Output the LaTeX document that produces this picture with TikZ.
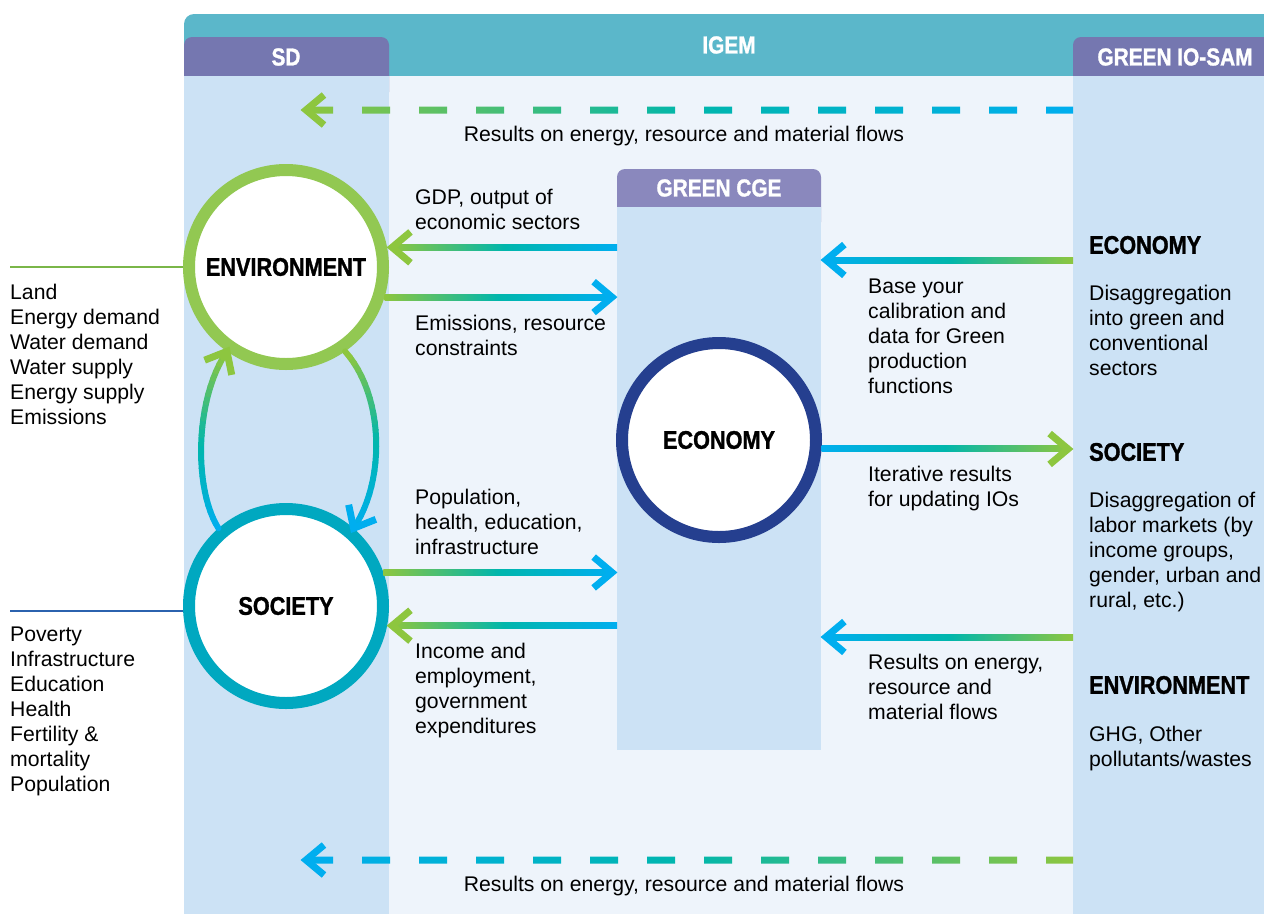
\documentclass[tikz,border=0pt]{standalone}
\usepackage{fontspec}
\setmainfont{Liberation Sans}
\newfontfamily\headfont{Liberation Sans}[FakeStretch=0.85, BoldFeatures={FakeBold=1.2}]
\usetikzlibrary{calc}

\definecolor{igembar}{HTML}{5BB7CA}
\definecolor{pale}{HTML}{EEF4FB}
\definecolor{colblue}{HTML}{CCE2F5}
\definecolor{tabpurple}{HTML}{7577B0}
\definecolor{cgepurple}{HTML}{8A88BD}
\definecolor{envgreen}{HTML}{92C852}
\definecolor{socteal}{HTML}{00A8C0}
\definecolor{econblue}{HTML}{253F8F}
\definecolor{arrowgreen}{HTML}{8DC63F}
\definecolor{midteal}{HTML}{00B6AC}
\definecolor{arrowblue}{HTML}{00AEEF}
\definecolor{envline}{HTML}{7AB648}
\definecolor{socline}{HTML}{2B62AE}

\newcommand\bodyfont{\fontsize{21.2}{25}\selectfont}
\newcommand\bigfont{\headfont\bfseries\fontsize{25.5}{30}\selectfont}
\newcommand\tabfont{\headfont\bfseries\fontsize{24.5}{28}\selectfont}

\tikzset{
  ring/.style={circle, draw=#1, fill=white, line width=12pt, minimum size=194pt, inner sep=0pt, font=\bigfont},
  colbody/.style={fill=colblue, anchor=north west, inner sep=0pt, outer sep=0pt},
  tabtext/.style={text=white, font=\tabfont},
  head/.style={anchor=west, inner sep=0pt, font=\bigfont},
  bodytext/.style={anchor=north west, align=left, inner sep=0pt, font=\bodyfont},
  chevron/.style={line width=7pt, line join=miter, miter limit=10}
}

% shaded arrow: tail, tip, left colour, right colour, tip colour
\newcommand\gradarrow[5]{%
  \coordinate (v) at ($(#2)!5pt!(#1)$);
  \shade[left color=#3, right color=#4, middle color=midteal] ($(#1)+(0,3)$) rectangle ($(v)+(0,-3)$);
  \draw[chevron, draw=#5] ($(v)!24pt!40:(#1)$) -- (v) -- ($(v)!24pt!-40:(#1)$);
}

% dashed shaded arrow pointing left: tail, tip, left colour, right colour
\newcommand\dasharrow[4]{%
  \coordinate (v) at ($(#2)+(5,0)$);
  \begin{scope}
    \clip ($(v)+(0,-3.5)$) rectangle ($(v)+(27,3.5)$)
      \foreach \k in {0,...,12} {($(v)+(56+57*\k,-3.5)$) rectangle ($(v)+(84+57*\k,3.5)$)};
    \shade[left color=#3, right color=#4, middle color=midteal] ($(v)+(0,-4)$) rectangle ($(#1)+(0,4)$);
  \end{scope}
  \draw[chevron, draw=#3] ($(v)+(18,-15)$) -- (v) -- ($(v)+(18,15)$);
}

% curved link from society (blue) to environment (green)
\newcommand\loopcurve[4]{%
  \path (#2) .. controls #3 .. (#4)
    \foreach \i in {0,...,24} {coordinate[pos=\i/24] (#1\i)};
  \foreach \i [evaluate=\i as \j using int(\i+1)] in {0,...,23} {
    \pgfmathtruncatemacro\p{\i*200/23}
    \ifnum\p<100 \colorlet{segc}{midteal!\p!arrowblue}%
    \else \pgfmathtruncatemacro\q{\p-100}\colorlet{segc}{arrowgreen!\q!midteal}\fi
    \draw[line width=6pt, draw=segc, line cap=round] (#1\i) -- (#1\j);
  }
}

\begin{document}
\begin{tikzpicture}[x=1pt, y=-1pt]
\useasboundingbox (0,0) rectangle (1264,914);
\clip (0,0) rectangle (1264,914);

% frame, tabs and columns
\fill[igembar, rounded corners=10pt] (184,14) rectangle (1300,100);
\fill[pale] (184,76) rectangle (1300,914);
\fill[tabpurple, rounded corners=8pt] (184,37) rectangle (389,100);
\fill[tabpurple, rounded corners=8pt] (1073,37) rectangle (1300,100);
\fill[cgepurple, rounded corners=8pt] (617,169) rectangle (821,230);
\node[colbody, minimum width=205pt, minimum height=838pt] (sd) at (184,76) {};
\node[colbody, minimum width=230pt, minimum height=838pt] (iosam) at (1073,76) {};
\node[colbody, minimum width=204pt, minimum height=543pt] (cge) at (617,207) {};

\node[tabtext] at (729,45) {IGEM};
\node[tabtext] at (286,57) {SD};
\node[tabtext] at (1175,57) {GREEN IO-SAM};
\node[tabtext] at (719,188) {GREEN CGE};

% circles
\node[ring=envgreen] (env) at (286,267) {ENVIRONMENT};
\node[ring=socteal] (soc) at (286,606) {SOCIETY};
\node[ring=econblue] (econ) at (719,440) {ECONOMY};

% lists on the left
\node[bodytext] (envlist) at (10,282) {\strut Land\\Energy demand\\Water demand\\Water supply\\Energy supply\\Emissions};
\node[bodytext] (soclist) at (10,624) {\strut Poverty\\Infrastructure\\Education\\Health\\Fertility \&\\mortality\\Population};
\draw[envline, line width=2pt] (env.180) -- (env.180 -| envlist.west);
\draw[socline, line width=2pt] (soc.183) -- (soc.183 -| soclist.west);

% links between environment and society
\loopcurve{lc}{soc.131}{(194,490) and (194,400)}{env.235}
\draw[chevron, draw=arrowgreen] ($(lc24)!24pt!40:(lc21)$) -- (lc24) -- ($(lc24)!24pt!-40:(lc21)$);
\loopcurve{rc}{soc.49}{(386,480) and (384,395)}{env.305}
\draw[chevron, draw=arrowblue] ($(rc0)!24pt!40:(rc3)$) -- (rc0) -- ($(rc0)!24pt!-40:(rc3)$);

% SD <-> green CGE
\gradarrow{env.11 -| cge.west}{env.11}{arrowgreen}{arrowblue}{arrowgreen}
\gradarrow{env.-17}{env.-17 -| cge.west}{arrowgreen}{arrowblue}{arrowblue}
\gradarrow{soc.19}{soc.19 -| cge.west}{arrowgreen}{arrowblue}{arrowblue}
\gradarrow{soc.-11 -| cge.west}{soc.-11}{arrowgreen}{arrowblue}{arrowgreen}

% green CGE <-> green IO-SAM
\coordinate (calib) at (1073,260);
\coordinate (flows) at (1073,637);
\gradarrow{calib}{calib -| cge.east}{arrowblue}{arrowgreen}{arrowblue}
\gradarrow{econ.-5}{econ.-5 -| iosam.west}{arrowblue}{arrowgreen}{arrowgreen}
\gradarrow{flows}{flows -| cge.east}{arrowblue}{arrowgreen}{arrowblue}

% IO-SAM results back to SD
\coordinate (topin) at (1073,110);
\coordinate (topout) at (301,110);
\coordinate (botin) at (1073,860);
\coordinate (botout) at (301,860);
\dasharrow{topin}{topout}{arrowgreen}{arrowblue}
\dasharrow{botin}{botout}{arrowblue}{arrowgreen}
\node[anchor=base, font=\bodyfont] (toplabel) at (684,141) {Results on energy, resource and material flows};
\node[anchor=base, font=\bodyfont] (botlabel) at (684,891) {Results on energy, resource and material flows};

% arrow labels
\node[bodytext] (gdp) at (415,187) {\strut GDP, output of\\economic sectors};
\node[bodytext] (emis) at (415,313) {\strut Emissions, resource\\constraints};
\node[bodytext] (pop) at (415,487) {\strut Population,\\health, education,\\infrastructure};
\node[bodytext] (income) at (415,641) {\strut Income and\\employment,\\government\\expenditures};
\node[bodytext] (base) at (868,276) {\strut Base your\\calibration and\\data for Green\\production\\functions};
\node[bodytext] (iter) at (868,464) {\strut Iterative results\\for updating IOs};
\node[bodytext] (res) at (868,652) {\strut Results on energy,\\resource and\\material flows};

% green IO-SAM column
\node[head] (ioecon) at (1089,245) {ECONOMY};
\node[bodytext] (ioecontext) at (1089,283) {\strut Disaggregation\\into green and\\conventional\\sectors};
\node[head] (iosoc) at (1089,452) {SOCIETY};
\node[bodytext] (iosoctext) at (1089,490) {\strut Disaggregation of\\labor markets (by\\income groups,\\gender, urban and\\rural, etc.)};
\node[head] (ioenv) at (1089,685) {ENVIRONMENT};
\node[bodytext] (ioenvtext) at (1089,724) {\strut GHG, Other\\pollutants/wastes};
\end{tikzpicture}
\end{document}
